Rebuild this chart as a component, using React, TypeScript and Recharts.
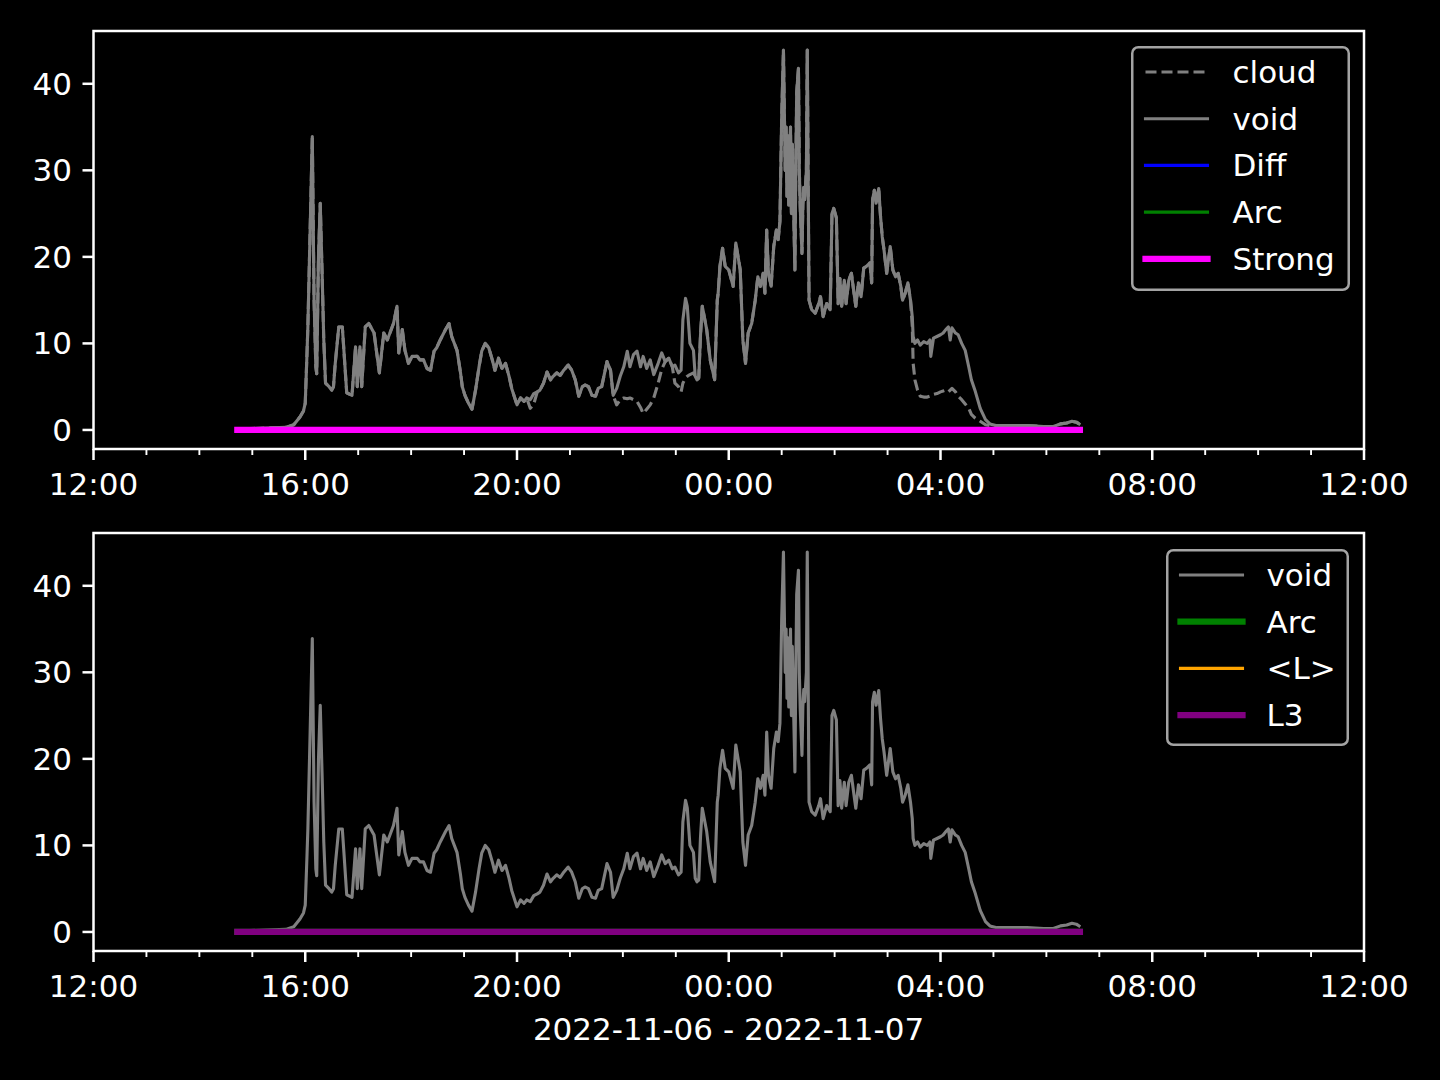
import React from 'react';
import { LineChart, Line, XAxis, YAxis, ReferenceArea, Legend } from 'recharts';

// time of each sample, minutes after 12:00 on 2022-11-06
const minutesSinceNoon = [
  163, 189, 218, 227, 234, 238, 240, 242, 243, 248,
  250, 252, 253, 255, 257, 259, 261, 263, 267, 270,
  272, 274, 278, 282, 284, 287, 293, 297, 299, 302,
  304, 308, 312, 318, 321, 324, 329, 333, 336, 340,
  344, 346, 350, 353, 357, 361, 367, 370, 374, 378,
  382, 386, 389, 393, 399, 403, 406, 412, 416, 418,
  421, 425, 429, 433, 437, 440, 444, 448, 452, 455,
  459, 463, 467, 471, 474, 480, 484, 488, 491, 495,
  499, 503, 506, 510, 514, 518, 521, 525, 529, 533,
  538, 542, 546, 550, 554, 557, 561, 565, 569, 572,
  576, 582, 586, 589, 593, 597, 601, 605, 608, 612,
  616, 620, 623, 627, 631, 635, 640, 644, 648, 652,
  656, 659, 663, 666, 668, 671, 673, 676, 680, 682,
  684, 686, 688, 690, 695, 699, 704, 707, 708, 710,
  713, 716, 720, 725, 728, 733, 736, 739, 742, 746,
  750, 753, 756, 759, 761, 763, 765, 768, 771, 774,
  776, 778, 780, 782, 784, 785, 786, 787, 788, 790,
  791, 792, 793, 795, 796, 797, 799, 800, 801, 803,
  804, 805, 806, 808, 809, 811, 814, 818, 822, 824,
  827, 831, 835, 837, 839, 842, 844, 846, 848, 851,
  853, 856, 859, 862, 864, 867, 870, 873, 876, 880,
  882, 883, 885, 887, 890, 892, 894, 896, 899, 903,
  906, 909, 912, 915, 917, 920, 923, 926, 928, 929,
  931, 934, 937, 941, 945, 948, 949, 952, 956, 960,
  963, 966, 969, 971, 973, 977, 980, 984, 988, 992,
  995, 999, 1005, 1011, 1016, 1024, 1039, 1058, 1077, 1088,
  1096, 1103, 1109, 1114, 1117,
];

const voidValues = [
  0.1, 0.2, 0.3, 0.6, 1.5, 2.2, 3.1, 8.9, 12, 33.9,
  15, 7.3, 6.5, 20, 26.2, 18.5, 10.4, 5.4, 5.0, 4.6,
  5.0, 7.7, 11.9, 11.9, 8.9, 4.3, 4.0, 9.6, 5.0, 9.6,
  5.0, 11.9, 12.3, 11.2, 8.9, 6.6, 11.2, 10.4, 11.2, 12.3,
  14.3, 8.9, 11.6, 9.2, 7.7, 8.5, 8.5, 8.1, 8.1, 7.1,
  6.9, 9.1, 9.5, 10.4, 11.6, 12.3, 10.8, 9.2, 6.6, 5.0,
  4.0, 3.1, 2.4, 4.6, 7.3, 9.1, 10.0, 9.5, 8.1, 6.9,
  8.3, 7.1, 7.7, 6.2, 4.8, 2.9, 3.7, 3.3, 3.7, 3.5,
  4.2, 4.4, 4.6, 5.4, 6.7, 5.8, 6.2, 6.6, 6.3, 6.9,
  7.5, 6.9, 5.8, 3.9, 5.0, 5.2, 5.0, 4.0, 3.9, 4.8,
  5.0, 7.9, 6.9, 4.0, 4.8, 6.2, 7.3, 9.1, 7.3, 8.7,
  9.1, 7.3, 8.5, 7.1, 8.1, 6.4, 7.7, 8.9, 7.9, 8.3,
  7.3, 7.5, 6.6, 6.9, 12.7, 15.2, 14.3, 10.0, 9.2, 6.2,
  5.8, 6.0, 11.0, 14.3, 11.6, 8.1, 5.8, 15.0, 15.8, 18.9,
  21.0, 18.9, 18.5, 16.6, 21.6, 18.5, 10.4, 7.7, 11.2, 12.3,
  15.0, 17.7, 16.6, 18.1, 15.8, 23.1, 18.1, 16.6, 21.2, 23.1,
  22.0, 24.1, 36.2, 43.9, 30, 35, 27, 34, 26, 35,
  25, 33, 28, 18.5, 30, 39, 41.8, 30, 25.8, 20.4,
  26, 28, 26.6, 30, 43.9, 15.0, 13.9, 13.5, 14.6, 15.4,
  13.1, 14.6, 13.9, 25.0, 25.6, 24.5, 14.6, 17.5, 14.3, 17.3,
  14.6, 17.3, 18.1, 15.8, 14.3, 17.0, 15.4, 18.7, 18.9, 19.3,
  17.0, 26.6, 27.7, 26.2, 27.9, 24.7, 22.3, 20.8, 18.1, 21.2,
  18.5, 17.7, 18.1, 16.6, 15.0, 15.8, 17.0, 15.0, 13.1, 10.8,
  10.0, 10.4, 9.8, 10.2, 10.0, 10.4, 8.5, 10.6, 10.8, 11.0,
  11.2, 11.6, 11.9, 10.4, 11.8, 11.2, 11.0, 10.0, 9.2, 7.3,
  5.8, 4.6, 2.5, 1.2, 0.7, 0.5, 0.5, 0.5, 0.4, 0.4,
  0.7, 0.8, 1.0, 0.9, 0.7,
];

const cloudValues = [
  0.1, 0.2, 0.3, 0.6, 1.5, 2.2, 3.1, 8.9, 12, 33.9,
  15, 7.3, 6.5, 20, 26.2, 18.5, 10.4, 5.4, 5.0, 4.6,
  5.0, 7.7, 11.9, 11.9, 8.9, 4.3, 4.0, 9.6, 5.0, 9.6,
  5.0, 11.9, 12.3, 11.2, 8.9, 6.6, 11.2, 10.4, 11.2, 12.3,
  14.3, 8.9, 11.6, 9.2, 7.7, 8.5, 8.5, 8.1, 8.1, 7.1,
  6.9, 9.1, 9.5, 10.4, 11.6, 12.3, 10.8, 9.2, 6.6, 5.0,
  4.0, 3.1, 2.4, 4.6, 7.3, 9.1, 10.0, 9.5, 8.1, 6.9,
  8.3, 7.1, 7.7, 6.2, 4.8, 2.9, 3.7, 3.3, 3.7, 2.5,
  3.0, 4.4, 4.6, 5.4, 6.7, 5.8, 6.2, 6.6, 6.3, 6.9,
  7.5, 6.9, 5.8, 3.9, 5.0, 5.2, 5.0, 4.0, 3.9, 4.8,
  5.0, 7.9, 6.9, 4.0, 2.9, 3.5, 3.7, 3.6, 3.7, 3.5,
  3.3, 2.6, 1.9, 2.4, 2.9, 3.7, 5.4, 7.0, 7.9, 8.3,
  7.3, 5.4, 5.0, 4.4, 5.4, 6.0, 6.2, 6.4, 6.6, 6.2,
  5.8, 6.0, 11.0, 14.3, 11.6, 8.1, 5.8, 15.0, 15.8, 18.9,
  21.0, 18.9, 18.5, 16.6, 21.6, 18.5, 10.4, 7.7, 11.2, 12.3,
  15.0, 17.7, 16.6, 18.1, 15.8, 23.1, 18.1, 16.6, 21.2, 23.1,
  22.0, 24.1, 36.2, 43.9, 30, 35, 27, 34, 26, 35,
  25, 33, 28, 18.5, 30, 39, 41.8, 30, 25.8, 20.4,
  26, 28, 26.6, 30, 43.9, 15.0, 13.9, 13.5, 14.6, 15.4,
  13.1, 14.6, 13.9, 25.0, 25.6, 24.5, 14.6, 17.5, 14.3, 17.3,
  14.6, 17.3, 18.1, 15.8, 14.3, 17.0, 15.4, 18.7, 18.9, 19.3,
  17.0, 26.6, 27.7, 26.2, 27.9, 24.7, 22.3, 20.8, 18.1, 21.2,
  18.5, 17.7, 18.1, 16.6, 15.0, 15.8, 17.0, 15.0, 12.0, 7.7,
  5.8, 4.6, 3.9, 3.8, 3.8, 3.9, 4.0, 4.1, 4.2, 4.4,
  4.5, 4.6, 4.4, 4.6, 4.8, 4.4, 3.9, 3.5, 3.0, 2.5,
  1.8, 1.4, 1.0, 0.6, 0.5, 0.5, 0.5, 0.5, 0.4, 0.4,
  0.7, 0.8, 1.0, 0.9, 0.7,
];

// flat series (start and end of the run)
const flatTimes = [163, 1118];
const diffValues = [0, 0];
const arcValues = [0, 0];
const strongValues = [0, 0];
const meanLValues = [0, 0];
const l3Values = [0, 0];

const hourTicks = [
  0, 60, 120, 180, 240, 300, 360, 420, 480, 540, 600, 660, 720,
  780, 840, 900, 960, 1020, 1080, 1140, 1200, 1260, 1320, 1380, 1440,
];
const xMajorTicks = [0, 240, 480, 720, 960, 1200, 1440];
const xTickLabels = ['12:00', '16:00', '20:00', '00:00', '04:00', '08:00', '12:00'];
const yTicks = [0, 10, 20, 30, 40];
const xAxisTitle = '2022-11-06 - 2022-11-07';

const Y_DOMAIN: [number, number] = [-2.2, 46.1];
const FONT = 'DejaVu Sans';
const FS = 31;
const THIN = 3.1;
const THICK = 6.25;

const toRows = (times: number[], values: number[]) => times.map((t, i) => ({ t, v: values[i] }));

const voidData = toRows(minutesSinceNoon, voidValues);
const cloudData = toRows(minutesSinceNoon, cloudValues);
const diffData = toRows(flatTimes, diffValues);
const arcData = toRows(flatTimes, arcValues);
const strongData = toRows(flatTimes, strongValues);
const meanLData = toRows(flatTimes, meanLValues);
const l3Data = toRows(flatTimes, l3Values);

type Item = { name: string; color: string; width: number; dash?: string };

const topItems: Item[] = [
  { name: 'cloud', color: 'gray', width: THIN, dash: '11 5' },
  { name: 'void', color: 'gray', width: THIN },
  { name: 'Diff', color: '#0000ff', width: THIN },
  { name: 'Arc', color: '#008000', width: THIN },
  { name: 'Strong', color: '#ff00ff', width: THICK },
];
const bottomItems: Item[] = [
  { name: 'void', color: 'gray', width: THIN },
  { name: 'Arc', color: '#008000', width: THICK },
  { name: '<L>', color: '#ffa500', width: THIN },
  { name: 'L3', color: '#800080', width: THICK },
];

const XTick = (props: any) => {
  const { x, y, payload } = props;
  const idx = xMajorTicks.indexOf(payload.value);
  const major = idx >= 0;
  return (
    <g>
      <line x1={x} x2={x} y1={y} y2={y + (major ? 11 : 6)} stroke="white" strokeWidth={major ? 2.5 : 1.9} />
      {major && (
        <text x={x} y={y + 46} textAnchor="middle" fill="white" fontSize={FS} fontFamily={FONT}>
          {xTickLabels[idx]}
        </text>
      )}
    </g>
  );
};

const YTick = (props: any) => {
  const { x, y, payload } = props;
  return (
    <g>
      <line x1={x - 11} x2={x} y1={y} y2={y} stroke="white" strokeWidth={2.5} />
      <text x={x - 21.5} y={y + 11} textAnchor="end" fill="white" fontSize={FS} fontFamily={FONT}>
        {payload.value}
      </text>
    </g>
  );
};

const LegendBox = ({ items, width, height, textX }: { items: Item[]; width: number; height: number; textX: number }) => (
  <svg width={width} height={height} style={{ display: 'block', overflow: 'visible' }}>
    <rect x={1.25} y={1.25} width={width - 2.5} height={height - 2.5} rx={6} ry={6} fill="black" stroke="#a3a3a3" strokeWidth={2.5} />
    {items.map((it, i) => {
      const cy = 26 + i * 46.7;
      return (
        <g key={it.name}>
          <line x1={14.5} x2={76.5} y1={cy} y2={cy} stroke={it.color} strokeWidth={it.width} strokeDasharray={it.dash} strokeLinecap={it.dash ? 'butt' : 'square'} />
          <text x={textX} y={cy + 11} fill="white" fontSize={FS} fontFamily={FONT}>
            {it.name}
          </text>
        </g>
      );
    })}
  </svg>
);

const lineCommon = {
  type: 'linear' as const,
  dataKey: 'v',
  dot: false,
  activeDot: false,
  isAnimationActive: false,
  strokeLinejoin: 'round' as const,
  legendType: 'none' as const,
};

export default function App() {
  return (
    <div style={{ position: 'absolute', left: 0, top: 0, width: 1440, height: 1080, background: 'black', fontFamily: FONT, overflow: 'hidden' }}>
      <div style={{ position: 'absolute', left: 0, top: 0 }}>
        <LineChart width={1440} height={520} margin={{ top: 31, right: 76, bottom: 11, left: 0 }}>
          <XAxis type="number" dataKey="t" domain={[0, 1440]} ticks={hourTicks} interval={0} tick={<XTick />} tickSize={0} tickMargin={0} axisLine={false} tickLine={false} height={60} allowDataOverflow />
          <YAxis type="number" domain={Y_DOMAIN} ticks={yTicks} interval={0} tick={<YTick />} tickSize={0} tickMargin={0} axisLine={false} tickLine={false} width={93.5} allowDataOverflow />
          <ReferenceArea x1={0} x2={1440} y1={Y_DOMAIN[0]} y2={Y_DOMAIN[1]} fill="none" fillOpacity={0} stroke="white" strokeWidth={2.5} />
          <Line {...lineCommon} data={cloudData} name="cloud" stroke="gray" strokeWidth={THIN} strokeDasharray="11 5" />
          <Line {...lineCommon} data={voidData} name="void" stroke="gray" strokeWidth={THIN} strokeLinecap="square" />
          <Line {...lineCommon} data={diffData} name="Diff" stroke="#0000ff" strokeWidth={THIN} strokeLinecap="square" />
          <Line {...lineCommon} data={arcData} name="Arc" stroke="#008000" strokeWidth={THIN} strokeLinecap="square" />
          <Line {...lineCommon} data={strongData} name="Strong" stroke="#ff00ff" strokeWidth={THICK} strokeLinecap="square" />
          <Legend
            layout="horizontal"
            verticalAlign="middle"
            align="center"
            wrapperStyle={{ left: 1131, top: 46, width: 219, height: 245 }}
            content={() => <LegendBox items={topItems} width={219} height={245} textX={101.5} />}
          />
        </LineChart>
      </div>
      <div style={{ position: 'absolute', left: 0, top: 500 }}>
        <LineChart width={1440} height={520} margin={{ top: 33, right: 76, bottom: 9, left: 0 }}>
          <XAxis type="number" dataKey="t" domain={[0, 1440]} ticks={hourTicks} interval={0} tick={<XTick />} tickSize={0} tickMargin={0} axisLine={false} tickLine={false} height={60} allowDataOverflow />
          <YAxis type="number" domain={Y_DOMAIN} ticks={yTicks} interval={0} tick={<YTick />} tickSize={0} tickMargin={0} axisLine={false} tickLine={false} width={93.5} allowDataOverflow />
          <ReferenceArea x1={0} x2={1440} y1={Y_DOMAIN[0]} y2={Y_DOMAIN[1]} fill="none" fillOpacity={0} stroke="white" strokeWidth={2.5} />
          <Line {...lineCommon} data={voidData} name="void" stroke="gray" strokeWidth={THIN} strokeLinecap="square" />
          <Line {...lineCommon} data={arcData} name="Arc" stroke="#008000" strokeWidth={THICK} strokeLinecap="square" />
          <Line {...lineCommon} data={meanLData} name="<L>" stroke="#ffa500" strokeWidth={THIN} strokeLinecap="square" />
          <Line {...lineCommon} data={l3Data} name="L3" stroke="#800080" strokeWidth={THICK} strokeLinecap="square" />
          <Legend
            layout="horizontal"
            verticalAlign="middle"
            align="center"
            wrapperStyle={{ left: 1166, top: 49, width: 183, height: 197 }}
            content={() => <LegendBox items={bottomItems} width={183} height={197} textX={100.5} />}
          />
        </LineChart>
      </div>
      <div style={{ position: 'absolute', left: 0, top: 1014, width: 1457, textAlign: 'center', color: 'white', fontSize: FS, lineHeight: '31px', fontFamily: FONT, whiteSpace: 'nowrap' }}>
        {xAxisTitle}
      </div>
    </div>
  );
}
